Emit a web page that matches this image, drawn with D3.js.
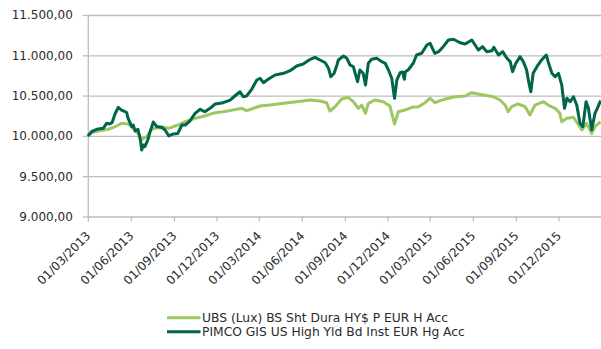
<!DOCTYPE html>
<html>
<head>
<meta charset="utf-8">
<script src="https://cdn.jsdelivr.net/npm/d3@7"></script>
<style>
  html, body { margin: 0; padding: 0; background: #fff; }
  svg { display: block; }
  text { font-family: "DejaVu Sans", sans-serif; fill: #2b2b2b; }
</style>
</head>
<body>
<svg id="chart" width="601" height="349"></svg>
<script>
// Value of 10,000 invested on 01/03/2013
const ubsName = "UBS (Lux) BS Sht Dura HY$ P EUR H Acc";
const pimcoName = "PIMCO GIS US High Yld Bd Inst EUR Hg Acc";

const ubsDates = [
  "2013-03-01","2013-03-10","2013-03-23","2013-04-05","2013-04-14","2013-04-28","2013-05-12","2013-05-26",
  "2013-06-06","2013-06-17","2013-06-24","2013-07-05","2013-07-15","2013-08-06","2013-08-20","2013-09-10",
  "2013-09-25","2013-10-16","2013-11-06","2013-11-28","2013-12-15","2014-01-13","2014-01-24","2014-02-03",
  "2014-03-04","2014-03-25","2014-04-23","2014-05-21","2014-06-19","2014-07-10","2014-07-24","2014-07-31",
  "2014-08-11","2014-08-25","2014-09-08","2014-09-19","2014-09-30","2014-10-07","2014-10-15","2014-10-21",
  "2014-11-04","2014-11-22","2014-12-06","2014-12-16","2014-12-24","2015-01-07","2015-01-22","2015-02-05",
  "2015-02-19","2015-03-02","2015-03-12","2015-03-27","2015-04-10","2015-04-24","2015-05-16","2015-05-30",
  "2015-06-24","2015-07-15","2015-07-29","2015-08-09","2015-08-16","2015-08-23","2015-09-06","2015-09-21",
  "2015-10-01","2015-10-12","2015-10-30","2015-11-09","2015-11-24","2015-12-04","2015-12-08","2015-12-19",
  "2016-01-02","2016-01-13","2016-01-20","2016-01-30","2016-02-10","2016-02-17","2016-02-29"
];
const ubsValues = [
  10000,10042,10061,10073,10082,10114,10156,10148,
  10094,10024,9958,9990,10082,10114,10094,10135,
  10176,10218,10247,10288,10300,10330,10342,10313,
  10371,10383,10404,10424,10445,10433,10412,10309,
  10362,10458,10479,10424,10342,10383,10280,10404,
  10445,10424,10371,10148,10300,10321,10355,10362,
  10412,10467,10412,10445,10467,10486,10495,10536,
  10507,10486,10445,10383,10300,10362,10396,10362,
  10259,10383,10424,10383,10342,10280,10176,10218,
  10231,10135,10073,10156,10032,10114,10176
];

const pimcoDates = [
  "2013-03-01","2013-03-09","2013-03-20","2013-04-03","2013-04-10","2013-04-17","2013-04-22","2013-04-28",
  "2013-05-05","2013-05-12","2013-05-17","2013-05-23","2013-05-26","2013-06-03","2013-06-06","2013-06-10",
  "2013-06-16","2013-06-19","2013-06-22","2013-06-24","2013-06-28","2013-07-01","2013-07-07","2013-07-12",
  "2013-07-19","2013-07-26","2013-08-06","2013-08-13","2013-08-21","2013-08-31","2013-09-09","2013-09-18",
  "2013-09-25","2013-10-05","2013-10-16","2013-10-27","2013-11-06","2013-11-17","2013-11-28","2013-12-15",
  "2013-12-30","2014-01-09","2014-01-20","2014-01-27","2014-02-03","2014-02-14","2014-02-25","2014-03-04",
  "2014-03-11","2014-03-21","2014-04-05","2014-04-23","2014-05-07","2014-05-21","2014-06-04","2014-06-19",
  "2014-06-29","2014-07-10","2014-07-21","2014-07-28","2014-08-02","2014-08-09","2014-08-15","2014-08-18",
  "2014-08-29","2014-09-05","2014-09-12","2014-09-19","2014-09-28","2014-10-03","2014-10-10","2014-10-15",
  "2014-10-21","2014-10-28","2014-11-08","2014-11-19","2014-11-26","2014-12-03","2014-12-10","2014-12-16",
  "2014-12-21","2014-12-28","2015-01-02","2015-01-06","2015-01-08","2015-01-14","2015-01-25","2015-02-01",
  "2015-02-12","2015-02-23","2015-03-02","2015-03-12","2015-03-20","2015-03-30","2015-04-10","2015-04-21",
  "2015-05-05","2015-05-16","2015-05-30","2015-06-06","2015-06-13","2015-06-22","2015-07-01","2015-07-12",
  "2015-07-16","2015-07-26","2015-08-04","2015-08-13","2015-08-20","2015-08-25","2015-09-01","2015-09-10",
  "2015-09-17","2015-09-24","2015-09-29","2015-10-03","2015-10-08","2015-10-16","2015-10-26","2015-11-05",
  "2015-11-09","2015-11-17","2015-11-24","2015-12-01","2015-12-08","2015-12-14","2015-12-19","2015-12-26",
  "2016-01-02","2016-01-09","2016-01-16","2016-01-22","2016-01-29","2016-02-03","2016-02-10","2016-02-17",
  "2016-02-22","2016-02-29"
];
const pimcoValues = [
  10000,10052,10082,10094,10156,10148,10166,10272,
  10355,10321,10309,10290,10218,10114,10135,10061,
  10082,10011,9924,9825,9887,9866,9949,10052,
  10172,10117,10104,10073,10000,10024,10030,10135,
  10135,10185,10280,10330,10300,10342,10396,10412,
  10445,10495,10548,10486,10495,10578,10694,10715,
  10660,10702,10756,10777,10809,10867,10892,10950,
  10975,10942,10908,10839,10734,10777,10880,10942,
  10991,10963,10880,10859,10672,10818,10777,10632,
  10901,10950,10963,10921,10901,10818,10715,10467,
  10694,10784,10793,10702,10797,10818,10901,11004,
  11025,11128,11149,11025,11045,11107,11190,11199,
  11156,11140,11190,11128,11066,11107,11045,11057,
  11099,11004,11045,10963,10921,10797,10901,10983,
  10921,10818,10653,10548,10777,10859,10942,11004,
  10921,10777,10734,10777,10632,10342,10467,10424,
  10486,10383,10156,10114,10424,10342,10073,10280,
  10342,10437
];

const yTicks = [9000, 9500, 10000, 10500, 11000, 11500];
const xTicks = [
  "2013-03-01","2013-06-01","2013-09-01","2013-12-01",
  "2014-03-01","2014-06-01","2014-09-01","2014-12-01",
  "2015-03-01","2015-06-01","2015-09-01","2015-12-01"
];

const parse = d3.utcParse("%Y-%m-%d");
const ubs = ubsDates.map((d, i) => ({ date: parse(d), value: ubsValues[i] }));
const pimco = pimcoDates.map((d, i) => ({ date: parse(d), value: pimcoValues[i] }));

const plot = { left: 87.8, right: 600.6, top: 15, bottom: 216.5, gridRight: 601 };
const colors = { ubs: "#9dc75f", pimco: "#00654a", grid: "#bdbdbd" };

const x = d3.scaleUtc()
  .domain([parse("2013-03-01"), parse("2016-02-29")])
  .range([plot.left, plot.right]);
const y = d3.scaleLinear().domain([9000, 11500]).range([plot.bottom, plot.top]);

const locale = d3.formatLocale({ decimal: ",", thousands: ".", grouping: [3], currency: ["", ""] });
const yFmt = locale.format(",.2f");
const xFmt = d3.utcFormat("%d/%m/%Y");

const svg = d3.select("#chart");

// horizontal gridlines
svg.append("g")
  .attr("transform", `translate(${plot.left},0)`)
  .call(d3.axisLeft(y).tickValues(yTicks).tickSize(-(plot.gridRight - plot.left)).tickFormat(""))
  .call(g => g.select(".domain").remove())
  .call(g => g.selectAll("line").attr("stroke", colors.grid).attr("stroke-width", 1.3));

// y axis with outward ticks and labels
svg.append("g")
  .attr("transform", `translate(${plot.left},0)`)
  .call(d3.axisLeft(y).tickValues(yTicks).tickSize(5).tickSizeOuter(0).tickPadding(10).tickFormat(yFmt))
  .call(g => g.select(".domain").attr("stroke", colors.grid).attr("stroke-width", 1.3))
  .call(g => g.selectAll("line").attr("stroke", colors.grid).attr("stroke-width", 1.3))
  .call(g => g.selectAll("text").style("font-size", "12px").style("fill", "#2b2b2b"));

// x axis with rotated date labels
svg.append("g")
  .attr("transform", `translate(0,${plot.bottom})`)
  .call(d3.axisBottom(x).tickValues(xTicks.map(parse)).tickSize(5).tickSizeOuter(0).tickFormat(xFmt))
  .call(g => g.select(".domain").remove())
  .call(g => g.selectAll("line").attr("stroke", colors.grid).attr("stroke-width", 1.3))
  .call(g => g.selectAll("text")
    .attr("x", 0).attr("y", 0).attr("dy", "0.35em")
    .attr("text-anchor", "end")
    .attr("transform", "translate(0,17) rotate(-45)")
    .style("font-size", "12px").style("fill", "#2b2b2b"));

const line = d3.line().x(d => x(d.date)).y(d => y(d.value)).curve(d3.curveLinear);

svg.append("path").datum(ubs)
  .attr("fill", "none").attr("stroke", colors.ubs).attr("stroke-width", 3)
  .attr("stroke-linejoin", "round").attr("d", line);

svg.append("path").datum(pimco)
  .attr("fill", "none").attr("stroke", colors.pimco).attr("stroke-width", 3)
  .attr("stroke-linejoin", "round").attr("d", line);

// legend
const legendItems = [
  { name: ubsName, color: colors.ubs, y: 317.7 },
  { name: pimcoName, color: colors.pimco, y: 331.7 }
];
const legend = svg.append("g");
legendItems.forEach(item => {
  legend.append("line")
    .attr("x1", 167).attr("x2", 200.5).attr("y1", item.y).attr("y2", item.y)
    .attr("stroke", item.color).attr("stroke-width", 3);
  legend.append("text")
    .attr("x", 202).attr("y", item.y).attr("dy", "0.36em")
    .style("font-size", "12.3px")
    .text(item.name);
});
</script>
</body>
</html>
